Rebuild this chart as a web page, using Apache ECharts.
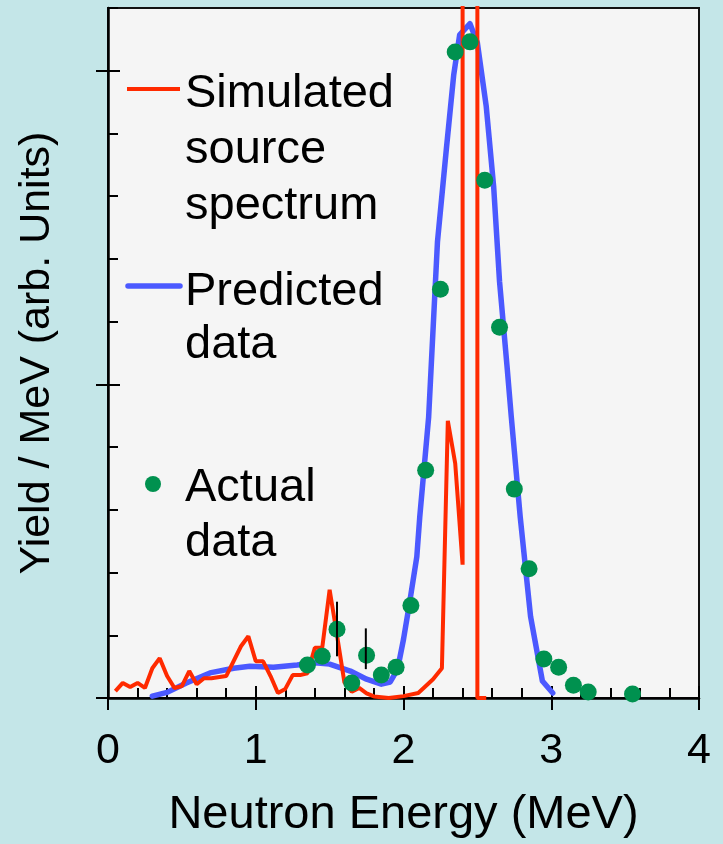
<!DOCTYPE html>
<html>
<head>
<meta charset="utf-8">
<script src="https://cdn.jsdelivr.net/npm/echarts@6/dist/echarts.min.js"></script>
<style>
  html, body { margin: 0; padding: 0; background: #c4e6e8; }
  #chart { width: 723px; height: 844px; }
</style>
</head>
<body>
<div id="chart"></div>
<script>
// Simulated source spectrum [energy, yield] (the big peak runs off the top)
const simulatedX = [0.05, 0.10, 0.15, 0.20, 0.25, 0.30, 0.35, 0.40, 0.45, 0.50, 0.55, 0.60, 0.65, 0.70, 0.80,
    0.90, 0.95, 1.00, 1.05, 1.10, 1.15, 1.20, 1.25, 1.30, 1.35, 1.40, 1.45, 1.50, 1.55, 1.60, 1.65, 1.70,
    1.75, 1.80, 1.90, 2.00, 2.10, 2.20, 2.26, 2.30, 2.35, 2.40, 2.40, 2.50, 2.50, 2.56];
const simulatedY = [0.022, 0.048, 0.035, 0.048, 0.032, 0.095, 0.127, 0.07, 0.032, 0.038, 0.086, 0.044, 0.063, 0.063, 0.07,
    0.165, 0.197, 0.117, 0.117, 0.07, 0.016, 0.029, 0.073, 0.073, 0.079, 0.16, 0.16, 0.345, 0.2, 0.05, 0.02, 0.032,
    0.015, 0.005, 0.0, 0.006, 0.016, 0.06, 0.095, 0.884, 0.748, 0.425, 9, 9, 0.0, 0.0];

// Predicted data
const predictedX = [0.30, 0.40, 0.53, 0.69, 0.85, 0.96, 1.12, 1.28, 1.40, 1.50, 1.64, 1.75, 1.85, 1.91, 1.96,
    2.00, 2.04, 2.09, 2.11, 2.17, 2.23, 2.29, 2.34, 2.38, 2.45, 2.50, 2.56, 2.61, 2.65, 2.70, 2.73, 2.79,
    2.86, 2.94, 3.01];
const predictedY = [0.006, 0.018, 0.048, 0.08, 0.095, 0.101, 0.098, 0.105, 0.112, 0.108, 0.086, 0.06, 0.044, 0.051, 0.092,
    0.187, 0.30, 0.45, 0.577, 0.894, 1.455, 1.75, 1.987, 2.114, 2.15, 2.089, 1.886, 1.632, 1.328, 1.062, 0.894, 0.577,
    0.26, 0.054, 0.016];

// Actual data
const actualX = [1.35, 1.45, 1.55, 1.65, 1.75, 1.85, 1.95, 2.05, 2.15, 2.25, 2.35, 2.45, 2.55, 2.65, 2.75,
    2.85, 2.95, 3.05, 3.15, 3.25, 3.55];
const actualY = [0.105, 0.133, 0.219, 0.048, 0.136, 0.073, 0.098, 0.295, 0.726, 1.303, 2.06, 2.092, 1.651, 1.182, 0.666,
    0.412, 0.124, 0.098, 0.041, 0.019, 0.013];

// error bars [energy, low, high]
const errorBars = [[1.55, 0.133, 0.307], [1.745, 0.092, 0.222]];

const xTickLabels = [0, 1, 2, 3, 4];
const yMajorTicks = [0, 1, 2];

const FONT = 'Liberation Sans, Arial, sans-serif';
const RED = '#ff2a00';
const BLUE = '#4b59ff';
const GREEN = '#00914f';

const zip = (xs, ys) => xs.map((x, i) => [x, ys[i]]);

const chart = echarts.init(document.getElementById('chart'));

const baseX = { type: 'value', min: 0, max: 4, gridIndex: 0, position: 'bottom', offset: 0, splitLine: { show: false } };
const baseY = { type: 'value', min: 0, max: 2.2, gridIndex: 0, position: 'left', offset: 0, splitLine: { show: false } };

chart.setOption({
    backgroundColor: '#c4e6e8',
    animation: false,
    grid: {
        left: 108, right: 24, top: 8, bottom: 142,
        show: true, backgroundColor: '#f5f5f5', borderColor: '#111', borderWidth: 2
    },
    xAxis: [
        // minor ticks, inside
        Object.assign({}, baseX, {
            interval: 0.2,
            axisLine: { lineStyle: { color: '#000', width: 2.5 } },
            axisTick: { inside: true, length: 10, lineStyle: { color: '#000', width: 2 } },
            axisLabel: { show: false }
        }),
        // major ticks, outside + labels + title
        Object.assign({}, baseX, {
            interval: 1,
            axisLine: { show: false },
            axisTick: { inside: false, length: 12, lineStyle: { color: '#000', width: 2 } },
            axisLabel: { show: true, margin: 32, fontSize: 43, color: '#000', fontFamily: FONT,
                customValues: xTickLabels },
            name: 'Neutron Energy (MeV)',
            nameLocation: 'middle',
            nameGap: 94,
            nameTextStyle: { fontSize: 47, color: '#000', fontFamily: FONT }
        }),
        // major ticks, inside
        Object.assign({}, baseX, {
            interval: 1,
            axisLine: { show: false },
            axisTick: { inside: true, length: 12, lineStyle: { color: '#000', width: 2 } },
            axisLabel: { show: false }
        })
    ],
    yAxis: [
        Object.assign({}, baseY, {
            interval: 0.2,
            axisLine: { lineStyle: { color: '#000', width: 2.5 } },
            axisTick: { inside: true, length: 10, lineStyle: { color: '#000', width: 2 } },
            axisLabel: { show: false }
        }),
        Object.assign({}, baseY, {
            interval: 1,
            axisLine: { show: false },
            axisTick: { inside: false, length: 12, customValues: yMajorTicks, lineStyle: { color: '#000', width: 2 } },
            axisLabel: { show: false },
            name: 'Yield / MeV (arb. Units)',
            nameLocation: 'middle',
            nameGap: 49,
            nameTextStyle: { fontSize: 43, color: '#000', fontFamily: FONT }
        }),
        Object.assign({}, baseY, {
            interval: 1,
            axisLine: { show: false },
            axisTick: { inside: true, length: 12, customValues: yMajorTicks, lineStyle: { color: '#000', width: 2 } },
            axisLabel: { show: false }
        })
    ],
    series: [
        {
            name: 'Predicted data',
            type: 'line',
            data: zip(predictedX, predictedY),
            showSymbol: false,
            lineStyle: { color: BLUE, width: 5.5, cap: 'round', join: 'round' },
            z: 2
        },
        {
            name: 'Simulated source spectrum',
            type: 'line',
            data: zip(simulatedX, simulatedY),
            showSymbol: false,
            clip: true,
            lineStyle: { color: RED, width: 4 },
            z: 3
        },
        {
            name: 'Actual data',
            type: 'scatter',
            data: zip(actualX, actualY),
            symbolSize: 17,
            itemStyle: { color: GREEN, opacity: 1 },
            z: 4
        },
        {
            name: 'error',
            type: 'custom',
            data: errorBars,
            z: 5,
            renderItem: (params, api) => {
                const p1 = api.coord([api.value(0), api.value(1)]);
                const p2 = api.coord([api.value(0), api.value(2)]);
                return {
                    type: 'line',
                    shape: { x1: p1[0], y1: p1[1], x2: p2[0], y2: p2[1] },
                    style: { stroke: '#000', lineWidth: 2 }
                };
            }
        }
    ],
    // legend drawn inside the plot, like the original
    graphic: [
        { type: 'line', shape: { x1: 127, y1: 89, x2: 180, y2: 89 }, style: { stroke: RED, lineWidth: 4 } },
        { type: 'text', x: 185, y: 66, style: { text: 'Simulated\nsource\nspectrum', fontSize: 47, fontFamily: FONT,
            fill: '#000', lineHeight: 56, verticalAlign: 'top' } },
        { type: 'line', shape: { x1: 128, y1: 286, x2: 180, y2: 286 }, style: { stroke: BLUE, lineWidth: 5.5, lineCap: 'round' } },
        { type: 'text', x: 185, y: 266, style: { text: 'Predicted\ndata', fontSize: 47, fontFamily: FONT,
            fill: '#000', lineHeight: 53, verticalAlign: 'top' } },
        { type: 'circle', shape: { cx: 153, cy: 484, r: 8 }, style: { fill: GREEN } },
        { type: 'text', x: 185, y: 461, style: { text: 'Actual\ndata', fontSize: 47, fontFamily: FONT,
            fill: '#000', lineHeight: 55, verticalAlign: 'top' } }
    ]
});

window.addEventListener('resize', () => {
    chart.resize();
});
</script>
</body>
</html>
